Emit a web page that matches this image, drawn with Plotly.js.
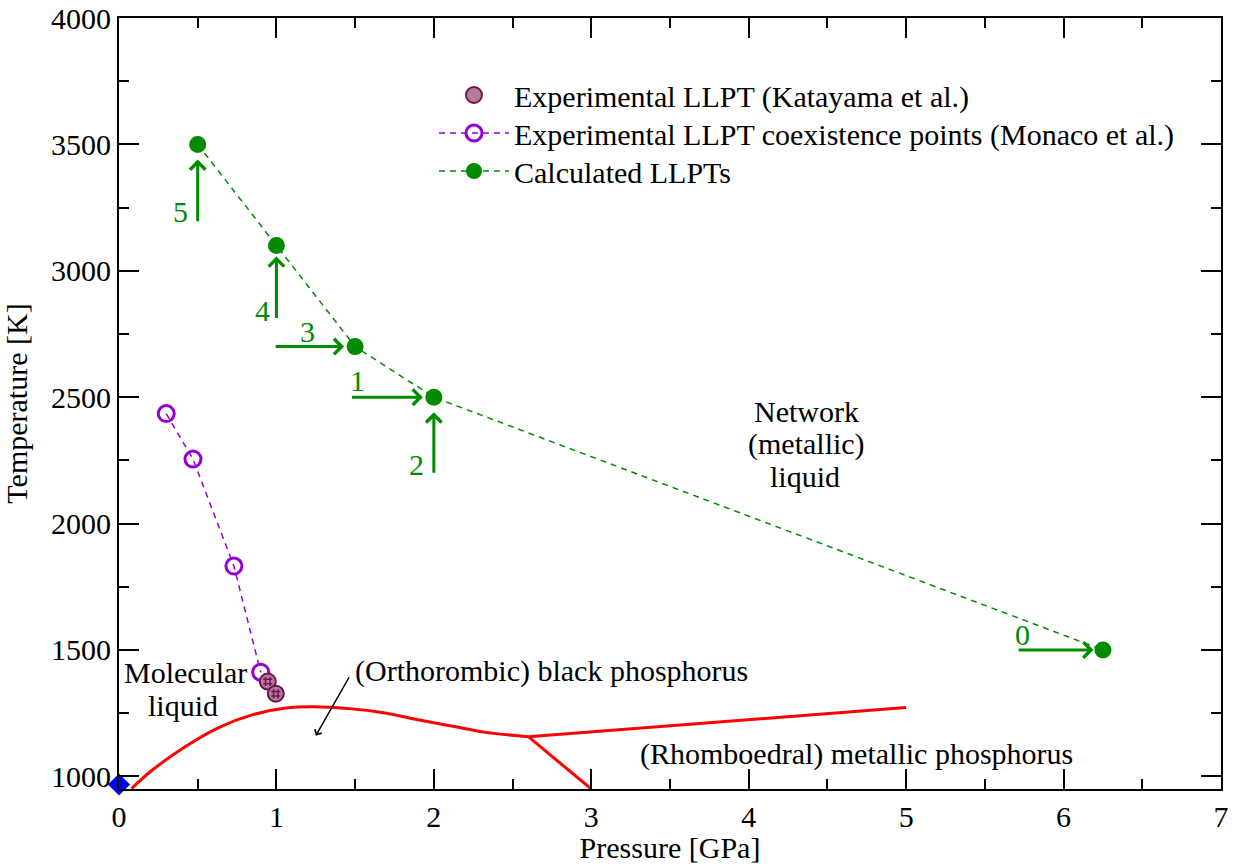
<!DOCTYPE html>
<html>
<head>
<meta charset="utf-8">
<script src="https://cdn.plot.ly/plotly-3.0.1.min.js"></script>
<style>
  html, body { margin: 0; padding: 0; background: #ffffff; }
  #chart { width: 1239px; height: 864px; }
</style>
</head>
<body>
<div id="chart"></div>
<script>
// ---- Data ----
// Calculated LLPTs
const calcP = [0.5, 1.0, 1.5, 2.0, 6.25];
const calcT = [3500, 3100, 2700, 2500, 1500];

// Experimental LLPT coexistence points (Monaco et al.)
const monacoP = [0.30, 0.47, 0.73, 0.90];
const monacoT = [2435, 2255, 1832, 1412];

// Experimental LLPT (Katayama et al.)
const katP = [0.945, 0.996];
const katT = [1375, 1327];

// Melting line of black phosphorus (curve)
const meltP = [0.08, 0.21, 0.42, 0.63, 0.85, 1.06, 1.23, 1.48, 1.69, 1.90, 2.12, 2.33, 2.60];
const meltT = [952, 1024, 1117, 1192, 1244, 1270, 1275, 1267, 1251, 1224, 1198, 1174, 1157];

// Melting line of rhombohedral phase
const meltRhP = [2.60, 5.0];
const meltRhT = [1157, 1272];

// Orthorhombic / rhombohedral boundary
const boundP = [2.60, 3.0];
const boundT = [1157, 950];

// Triple point marker
const tripleP = [0];
const tripleT = [968];

// Numbered arrows pointing at calculated LLPTs
const arrowLabels = ['5', '4', '3', '1', '2', '0'];
const arrowTailP = [0.5, 1.0, 0.985, 1.47, 2.0, 5.705];
const arrowTailT = [3190, 2807, 2700, 2500, 2195, 1500];
const arrowHeadP = [0.5, 1.0, 1.43, 1.93, 2.0, 6.19];
const arrowHeadT = [3440, 3057, 2700, 2500, 2440, 1500];
const arrowLabelP = [0.39, 0.91, 1.195, 1.515, 1.89, 5.74];
const arrowLabelT = [3233, 2843, 2758, 2566, 2235, 1563];

// Region labels (one entry per text line)
const regionText = ['Network', '(metallic)', 'liquid', 'Molecular', 'liquid',
                    '(Orthorombic) black phosphorus', '(Rhomboedral) metallic phosphorus'];
const regionP = [4.37, 4.37, 4.355, 0.423, 0.405, 2.745, 4.687];
const regionT = [2443, 2316, 2186, 1410, 1282, 1415, 1090];

// Pointer for black phosphorus label
const pointerTail = [1.467, 1398];
const pointerHead = [1.25, 1161];

// Tick labels
const xTicks = [0, 1, 2, 3, 4, 5, 6, 7];
const yTicks = [1000, 1500, 2000, 2500, 3000, 3500, 4000];

// ---- Styles ----
const GREEN = '#008b00';
const PURPLE = '#9400d3';
const MAROON = '#6e1450';
const RED = '#ff0000';
const FONT = '"Liberation Serif", "Times New Roman", serif';

const traces = [
  { x: meltP, y: meltT, mode: 'lines', line: { color: RED, width: 3, shape: 'spline', smoothing: 1.0 },
    showlegend: false, hoverinfo: 'skip' },
  { x: meltRhP, y: meltRhT, mode: 'lines', line: { color: RED, width: 3 }, showlegend: false, hoverinfo: 'skip' },
  { x: boundP, y: boundT, mode: 'lines', line: { color: RED, width: 3 }, showlegend: false, hoverinfo: 'skip' },
  { x: tripleP, y: tripleT, mode: 'markers', marker: { symbol: 'diamond', size: 17, color: '#0000ff' },
    showlegend: false, cliponaxis: false, hoverinfo: 'skip' },
  { x: monacoP, y: monacoT, mode: 'lines+markers', name: 'Experimental LLPT coexistence points (Monaco et al.)',
    line: { color: PURPLE, width: 1.5, dash: '6px,5px' },
    marker: { symbol: 'circle-open', size: 16, color: PURPLE, line: { color: PURPLE, width: 3 } },
    legend: 'legend2' },
  { x: katP, y: katT, mode: 'markers', name: 'Experimental LLPT (Katayama et al.)',
    marker: { symbol: 'circle', size: 16, color: '#b57a9e', line: { color: MAROON, width: 2 } },
    legend: 'legend' },
  { x: katP, y: katT, mode: 'markers', showlegend: false, hoverinfo: 'skip',
    marker: { symbol: 'hash-open', size: 9, color: MAROON, line: { color: MAROON, width: 1.5 } } },
  { x: calcP, y: calcT, mode: 'lines+markers', name: 'Calculated LLPTs',
    line: { color: GREEN, width: 1.5, dash: '6px,5px' },
    marker: { symbol: 'circle', size: 17, color: GREEN },
    legend: 'legend3' }
];

const annotations = [];
for (let i = 0; i < arrowLabels.length; i++) {
  annotations.push({
    x: arrowHeadP[i], y: arrowHeadT[i], ax: arrowTailP[i], ay: arrowTailT[i],
    xref: 'x', yref: 'y', axref: 'x', ayref: 'y', text: '',
    showarrow: true, arrowhead: 4, arrowsize: 1, arrowwidth: 3, arrowcolor: GREEN
  });
  annotations.push({
    x: arrowLabelP[i], y: arrowLabelT[i], xref: 'x', yref: 'y', text: arrowLabels[i],
    showarrow: false, font: { family: FONT, size: 30, color: GREEN }
  });
}
for (let i = 0; i < regionText.length; i++) {
  annotations.push({
    x: regionP[i], y: regionT[i], xref: 'x', yref: 'y', text: regionText[i],
    showarrow: false, font: { family: FONT, size: 30, color: '#000000' }, align: 'center'
  });
}
annotations.push({
  x: pointerHead[0], y: pointerHead[1], ax: pointerTail[0], ay: pointerTail[1],
  xref: 'x', yref: 'y', axref: 'x', ayref: 'y', text: '',
  showarrow: true, arrowhead: 4, arrowsize: 1, arrowwidth: 1.5, arrowcolor: '#000000'
});

const axisCommon = {
  showline: true, linecolor: '#000000', linewidth: 2, mirror: 'ticks',
  ticks: 'inside', ticklen: 20, tickwidth: 2, tickcolor: '#000000',
  showgrid: false, zeroline: false,
  tickfont: { family: FONT, size: 30, color: '#000000' }
};

function legendAt(topPx) {
  return {
    x: (434 - 119) / 1102, y: 1 - (topPx - 18) / 771, xanchor: 'left', yanchor: 'top',
    bgcolor: 'rgba(0,0,0,0)', font: { family: FONT, size: 30, color: '#000000' },
    itemwidth: 70, tracegroupgap: 0
  };
}

const layout = {
  width: 1239, height: 864,
  margin: { l: 119, r: 18, t: 18, b: 75 },
  paper_bgcolor: '#ffffff', plot_bgcolor: '#ffffff',
  showlegend: true,
  legend: legendAt(69),
  legend2: legendAt(107),
  legend3: legendAt(145),
  xaxis: Object.assign({}, axisCommon, {
    range: [0, 7], tickvals: xTicks, ticktext: xTicks.map(String),
    minor: { dtick: 0.5, ticks: 'inside', ticklen: 10, tickwidth: 2, tickcolor: '#000000', showgrid: false },
    title: { text: 'Pressure [GPa]', font: { family: FONT, size: 30, color: '#000000' }, standoff: 0 }
  }),
  yaxis: Object.assign({}, axisCommon, {
    range: [950, 4000], tickvals: yTicks, ticktext: yTicks.map(String),
    minor: { dtick: 250, tick0: 1000, ticks: 'inside', ticklen: 10, tickwidth: 2, tickcolor: '#000000', showgrid: false },
    title: { text: 'Temperature [K]', font: { family: FONT, size: 30, color: '#000000' }, standoff: 18 }
  }),
  annotations: annotations
};

Plotly.newPlot('chart', traces, layout, { displayModeBar: false, staticPlot: true });
</script>
</body>
</html>
